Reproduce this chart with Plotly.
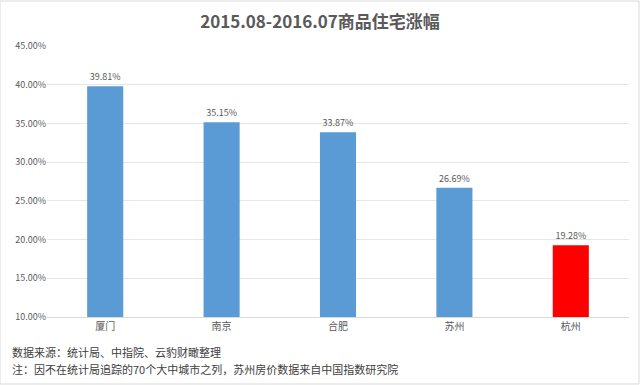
import plotly.graph_objects as go

cities = ["厦门", "南京", "合肥", "苏州", "杭州"]
values = [39.81, 35.15, 33.87, 26.69, 19.28]
colors = ["#5B9BD5", "#5B9BD5", "#5B9BD5", "#5B9BD5", "#FF0000"]
tick_vals = [10, 15, 20, 25, 30, 35, 40, 45]
tick_text = ["%.2f%%" % v for v in tick_vals]
title = "2015.08-2016.07商品住宅涨幅"
notes = ["数据来源：统计局、中指院、云豹财瞰整理",
         "注：因不在统计局追踪的70个大中城市之列，苏州房价数据来自中国指数研究院"]

font_family = "Noto Sans CJK SC, Lato, sans-serif"

fig = go.Figure()
fig.add_trace(go.Bar(
    x=cities, y=values, marker=dict(color=colors, line=dict(width=0)),
    text=["%.2f%%" % v for v in values], textposition="outside",
    textfont=dict(size=9, color="#595959"), cliponaxis=False,
))
fig.update_layout(
    width=640, height=385,
    margin=dict(l=47, r=11, t=46, b=68),
    paper_bgcolor="white", plot_bgcolor="white",
    bargap=0.69, showlegend=False,
    font=dict(family=font_family, color="#595959"),
    title=dict(text="<b>" + title + "</b>", x=0.5, xanchor="center",
               y=1 - 22 / 385, yanchor="middle",
               font=dict(size=17, color="#595959")),
    xaxis=dict(showgrid=False, showline=True, linecolor="#D9D9D9",
               tickfont=dict(size=10, color="#595959"), ticks=""),
    yaxis=dict(range=[10, 45], tickvals=tick_vals, ticktext=tick_text,
               showgrid=True, gridcolor="#E6E6E6", gridwidth=1,
               zeroline=False, showline=False,
               tickfont=dict(size=9, color="#595959"), ticks=""),
)
fig.add_shape(type="rect", xref="paper", yref="paper",
              x0=-47/582, x1=1 + 10/582, y0=-67/271, y1=1 + 45/271,
              line=dict(color="#D9D9D9", width=1))
for i, n in enumerate(notes):
    fig.add_annotation(text=n, xref="paper", yref="paper",
                       x=-37/582, xanchor="left",
                       y=-(352 + i * 17 - 317) / 271, yanchor="middle",
                       showarrow=False, font=dict(size=11, color="#404040"))
fig.write_html("out.html")
